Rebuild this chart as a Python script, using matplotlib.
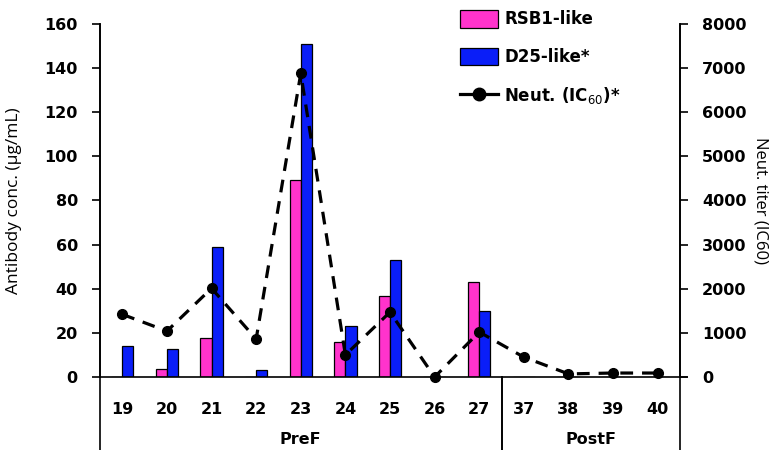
import numpy as np
import matplotlib
matplotlib.use('Agg')
import matplotlib.pyplot as plt
from matplotlib.lines import Line2D
from matplotlib.patches import Patch

plt.rcParams['font.family'] = ['DejaVu Sans']

# данные
categories = ['19', '20', '21', '22', '23', '24', '25', '26', '27', '37', '38', '39', '40']
rsb1_like = [0, 3.6, 17.5, 0, 89.5, 16, 36.5, 0, 43, 0, 0, 0, 0]
d25_like = [14, 12.7, 59, 3, 151, 23, 53, 0, 30, 0, 0, 0, 0]
neut_ic60 = [1420, 1040, 2010, 860, 6880, 500, 1470, 0, 1020, 450, 70, 90, 90]
groups = ['PreF', 'PostF']
group_sizes = [9, 4]

pink = '#ff33cc'
blue = '#0a1ef8'

fig = plt.figure(figsize=(7.81, 4.5), dpi=100)
ax = fig.add_axes([100 / 781, 73 / 450, 580 / 781, 353 / 450])
ax2 = ax.twinx()

x = np.arange(len(categories))
w = 0.25
ax.bar(x - w / 2, rsb1_like, w, color=pink, edgecolor='black', linewidth=0.9)
ax.bar(x + w / 2, d25_like, w, color=blue, edgecolor='black', linewidth=0.9)

ax2.plot(x, neut_ic60, color='black', linestyle=(0, (4, 2.8)), linewidth=2.3,
         marker='o', markersize=7, clip_on=False)

ax.set_xlim(-0.5, len(categories) - 0.5)
ax.set_ylim(0, 160)
ax2.set_ylim(0, 8000)
ax.set_yticks(np.arange(0, 161, 20))
ax2.set_yticks(np.arange(0, 8001, 1000))

for a in (ax, ax2):
    a.spines['top'].set_visible(False)
    a.spines['bottom'].set_visible(False)
    a.spines['left'].set_linewidth(1.2)
    a.spines['right'].set_linewidth(1.2)

# базовая линия
ax.plot([-0.5, len(categories) - 0.5 + 0.15], [0, 0], color='black', lw=1.2, clip_on=False)

ax.set_xticks(x)
ax.set_xticklabels(categories, fontsize=11.5, fontweight='bold')
ax.tick_params(axis='x', length=0, pad=18)
ax.tick_params(axis='y', direction='out', length=6, width=1.2, labelsize=11.5, pad=10)
ax2.tick_params(axis='y', direction='out', length=6, width=1.2, labelsize=11.5, pad=10)
for lab in ax.get_yticklabels() + ax2.get_yticklabels():
    lab.set_fontweight('bold')

ax.set_ylabel('Antibody conc. (\u00b5g/mL)', fontsize=12.5, family='Open Sans')
ax.yaxis.set_label_coords(-0.134, 0.5)
ax2.set_ylabel('Neut. titer (IC60)', fontsize=12, rotation=-90, family='Open Sans')
ax2.yaxis.set_label_coords(1.153, 0.5)

# разделители групп
bottom = -73 / 353
trans = ax.get_xaxis_transform()
start = -0.5
for name, n in zip(groups, group_sizes):
    end = start + n
    ax.plot([start, start], [0, bottom], color='black', lw=1.2, transform=trans, clip_on=False)
    ax.plot([end, end], [0, bottom], color='black', lw=1.2, transform=trans, clip_on=False)
    ax.text((start + end) / 2, -63 / 353, name, transform=trans, ha='center', va='center',
            fontsize=11.5, fontweight='bold')
    start = end

handles = [Patch(facecolor=pink, edgecolor='black', linewidth=0.9),
           Patch(facecolor=blue, edgecolor='black', linewidth=0.9),
           Line2D([], [], color='black', linewidth=2.3, marker='o', markersize=9)]
labels = ['RSB1-like', 'D25-like*', 'Neut. (IC$_{60}$)*']
fig.legend(handles, labels, loc='upper left', bbox_to_anchor=(460 / 781, 1 - 10 / 450),
           frameon=False, prop={'size': 12, 'weight': 'bold'}, handlelength=2.3,
           handleheight=1.25, labelspacing=1.15, handletextpad=0.35, borderpad=0,
           borderaxespad=0)

fig.savefig('out.png', dpi=100)
